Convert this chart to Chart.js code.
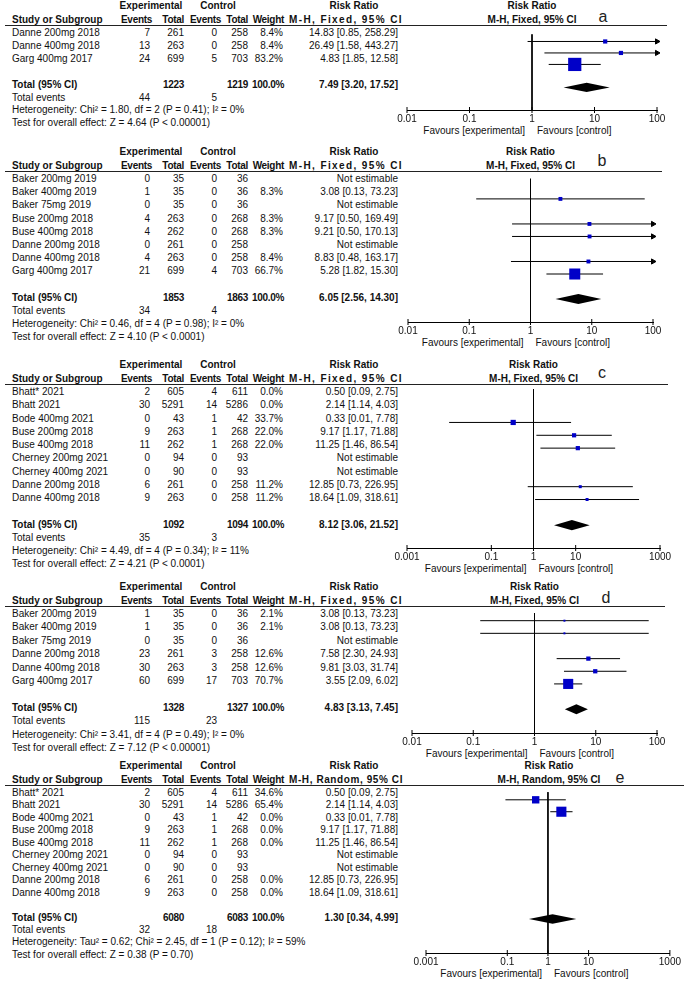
<!DOCTYPE html>
<html>
<head>
<meta charset="utf-8">
<title>Forest plots a-e</title>
<script src="https://cdn.jsdelivr.net/npm/chart.js@4.4.0/dist/chart.umd.min.js"></script>
<style>
  html, body { margin: 0; padding: 0; background: #fff; }
  #page { position: relative; width: 684px; height: 982px; overflow: hidden;
          font-family: "Liberation Sans", Arial, sans-serif; font-size: 10px; color: #111; }
  .t { position: absolute; white-space: nowrap; line-height: 12px; }
  .b { font-weight: bold; }
  .n { letter-spacing: -0.3px; }
  .rule { position: absolute; height: 1px; background: #222; }
  .tag { position: absolute; font-size: 16px; line-height: 18px; color: #222; transform: translate(-50%, -50%); }
  canvas { position: absolute; }
</style>
</head>
<body>
<div id="page"></div>
<script>
// ---- panel a
const studiesA = ['Danne 200mg 2018', 'Danne 400mg 2018', 'Garg 400mg 2017'];
const expEventsA = [7, 13, 24];
const expTotalA = [261, 263, 699];
const ctrlEventsA = [0, 0, 5];
const ctrlTotalA = [258, 258, 703];
const weightA = [8.4, 8.4, 83.2];
const rrA = [14.83, 26.49, 4.83];
const lowerA = [0.85, 1.58, 1.85];
const upperA = [258.29, 443.27, 12.58];
const totalNA = [1223, 1219];
const totalRRA = [7.49, 3.20, 17.52];
const totalEventsA = [44, 5];
const hetA = 'Heterogeneity: Chi² = 1.80, df = 2 (P = 0.41); I² = 0%';
const testA = 'Test for overall effect: Z = 4.64 (P < 0.00001)';
const ticksA = [0.01, 0.1, 1, 10, 100];

// ---- panel b
const studiesB = ['Baker 200mg 2019', 'Baker 400mg 2019', 'Baker 75mg 2019', 'Buse 200mg 2018',
                  'Buse 400mg 2018', 'Danne 200mg 2018', 'Danne 400mg 2018', 'Garg 400mg 2017'];
const expEventsB = [0, 1, 0, 4, 4, 0, 4, 21];
const expTotalB = [35, 35, 35, 263, 262, 261, 263, 699];
const ctrlEventsB = [0, 0, 0, 0, 0, 0, 0, 4];
const ctrlTotalB = [36, 36, 36, 268, 268, 258, 258, 703];
const weightB = [null, 8.3, null, 8.3, 8.3, null, 8.4, 66.7];
const rrB = [null, 3.08, null, 9.17, 9.21, null, 8.83, 5.28];
const lowerB = [null, 0.13, null, 0.50, 0.50, null, 0.48, 1.82];
const upperB = [null, 73.23, null, 169.49, 170.13, null, 163.17, 15.30];
const totalNB = [1853, 1863];
const totalRRB = [6.05, 2.56, 14.30];
const totalEventsB = [34, 4];
const hetB = 'Heterogeneity: Chi² = 0.46, df = 4 (P = 0.98); I² = 0%';
const testB = 'Test for overall effect: Z = 4.10 (P < 0.0001)';
const ticksB = [0.01, 0.1, 1, 10, 100];

// ---- panel c
const studiesC = ['Bhatt* 2021', 'Bhatt 2021', 'Bode 400mg 2021', 'Buse 200mg 2018', 'Buse 400mg 2018',
                  'Cherney 200mg 2021', 'Cherney 400mg 2021', 'Danne 200mg 2018', 'Danne 400mg 2018'];
const expEventsC = [2, 30, 0, 9, 11, 0, 0, 6, 9];
const expTotalC = [605, 5291, 43, 263, 262, 94, 90, 261, 263];
const ctrlEventsC = [4, 14, 1, 1, 1, 0, 0, 0, 0];
const ctrlTotalC = [611, 5286, 42, 268, 268, 93, 93, 258, 258];
const weightC = [0.0, 0.0, 33.7, 22.0, 22.0, null, null, 11.2, 11.2];
const rrC = [0.50, 2.14, 0.33, 9.17, 11.25, null, null, 12.85, 18.64];
const lowerC = [0.09, 1.14, 0.01, 1.17, 1.46, null, null, 0.73, 1.09];
const upperC = [2.75, 4.03, 7.78, 71.88, 86.54, null, null, 226.95, 318.61];
const totalNC = [1092, 1094];
const totalRRC = [8.12, 3.06, 21.52];
const totalEventsC = [35, 3];
const hetC = 'Heterogeneity: Chi² = 4.49, df = 4 (P = 0.34); I² = 11%';
const testC = 'Test for overall effect: Z = 4.21 (P < 0.0001)';
const ticksC = [0.001, 0.1, 1, 10, 1000];

// ---- panel d
const studiesD = ['Baker 200mg 2019', 'Baker 400mg 2019', 'Baker 75mg 2019',
                  'Danne 200mg 2018', 'Danne 400mg 2018', 'Garg 400mg 2017'];
const expEventsD = [1, 1, 0, 23, 30, 60];
const expTotalD = [35, 35, 35, 261, 263, 699];
const ctrlEventsD = [0, 0, 0, 3, 3, 17];
const ctrlTotalD = [36, 36, 36, 258, 258, 703];
const weightD = [2.1, 2.1, null, 12.6, 12.6, 70.7];
const rrD = [3.08, 3.08, null, 7.58, 9.81, 3.55];
const lowerD = [0.13, 0.13, null, 2.30, 3.03, 2.09];
const upperD = [73.23, 73.23, null, 24.93, 31.74, 6.02];
const totalND = [1328, 1327];
const totalRRD = [4.83, 3.13, 7.45];
const totalEventsD = [115, 23];
const hetD = 'Heterogeneity: Chi² = 3.41, df = 4 (P = 0.49); I² = 0%';
const testD = 'Test for overall effect: Z = 7.12 (P < 0.00001)';
const ticksD = [0.01, 0.1, 1, 10, 100];

// ---- panel e (same studies as c, random effects)
const studiesE = studiesC;
const expEventsE = [2, 30, 0, 9, 11, 0, 0, 6, 9];
const expTotalE = [605, 5291, 43, 263, 262, 94, 90, 261, 263];
const ctrlEventsE = [4, 14, 1, 1, 1, 0, 0, 0, 0];
const ctrlTotalE = [611, 5286, 42, 268, 268, 93, 93, 258, 258];
const weightE = [34.6, 65.4, 0.0, 0.0, 0.0, null, null, 0.0, 0.0];
const rrE = [0.50, 2.14, 0.33, 9.17, 11.25, null, null, 12.85, 18.64];
const lowerE = [0.09, 1.14, 0.01, 1.17, 1.46, null, null, 0.73, 1.09];
const upperE = [2.75, 4.03, 7.78, 71.88, 86.54, null, null, 226.95, 318.61];
const totalNE = [6080, 6083];
const totalRRE = [1.30, 0.34, 4.99];
const totalEventsE = [32, 18];
const hetE = 'Heterogeneity: Tau² = 0.62; Chi² = 2.45, df = 1 (P = 0.12); I² = 59%';
const testE = 'Test for overall effect: Z = 0.38 (P = 0.70)';
const ticksE = [0.001, 0.1, 1, 10, 1000];

const BLUE = '#0000c8';
const FONT = '"Liberation Sans", Arial, sans-serif';
const AXIS_H = 18;   // tick label height 12 + padding 3*2
const PLOT_LEFT = 380;
const PLOT_W = 304;

// right edges of the table columns
const COL = { name: 12, expEv: 150, expN: 184, ctrlEv: 217, ctrlN: 248, weight: 284, rr: 398 };

const panels = [
  { tag: 'a', model: 'Fixed', studies: studiesA, expEv: expEventsA, expN: expTotalA, ctrlEv: ctrlEventsA, ctrlN: ctrlTotalA,
    weight: weightA, rr: rrA, lo: lowerA, hi: upperA, totalN: totalNA, totalRR: totalRRA, events: totalEventsA,
    het: hetA, test: testA, ticks: ticksA,
    firstRow: 33, rowStep: 12.9, axisY: 110, axisLeft: 407, axisRight: 657, ruleRight: 667, tagX: 603, tagY: 17, boxScale: 1.45 },
  { tag: 'b', model: 'Fixed', studies: studiesB, expEv: expEventsB, expN: expTotalB, ctrlEv: ctrlEventsB, ctrlN: ctrlTotalB,
    weight: weightB, rr: rrB, lo: lowerB, hi: upperB, totalN: totalNB, totalRR: totalRRB, events: totalEventsB,
    het: hetB, test: testB, ticks: ticksB,
    firstRow: 179, rowStep: 13.2, axisY: 322, axisLeft: 408, axisRight: 653, ruleRight: 662, tagX: 602, tagY: 161, boxScale: 1.35 },
  { tag: 'c', model: 'Fixed', studies: studiesC, expEv: expEventsC, expN: expTotalC, ctrlEv: ctrlEventsC, ctrlN: ctrlTotalC,
    weight: weightC, rr: rrC, lo: lowerC, hi: upperC, totalN: totalNC, totalRR: totalRRC, events: totalEventsC,
    het: hetC, test: testC, ticks: ticksC,
    firstRow: 392, rowStep: 13.25, axisY: 548, axisLeft: 407, axisRight: 660, ruleRight: 668, tagX: 602, tagY: 373, boxScale: 0.9 },
  { tag: 'd', model: 'Fixed', studies: studiesD, expEv: expEventsD, expN: expTotalD, ctrlEv: ctrlEventsD, ctrlN: ctrlTotalD,
    weight: weightD, rr: rrD, lo: lowerD, hi: upperD, totalN: totalND, totalRR: totalRRD, events: totalEventsD,
    het: hetD, test: testD, ticks: ticksD,
    firstRow: 614, rowStep: 13.4, axisY: 733, axisLeft: 412, axisRight: 657, ruleRight: 665, tagX: 606, tagY: 598, boxScale: 1.2 },
  { tag: 'e', model: 'Random', studies: studiesE, expEv: expEventsE, expN: expTotalE, ctrlEv: ctrlEventsE, ctrlN: ctrlTotalE,
    weight: weightE, rr: rrE, lo: lowerE, hi: upperE, totalN: totalNE, totalRR: totalRRE, events: totalEventsE,
    het: hetE, test: testE, ticks: ticksE,
    firstRow: 793, rowStep: 12.45, axisY: 953, axisLeft: 426, axisRight: 672, ruleRight: 684, tagX: 620, tagY: 778, boxScale: 1.25 }
];

const page = document.getElementById('page');

function put(text, x, y, align, cls) {
  const d = document.createElement('div');
  d.className = 't' + (cls ? ' ' + cls : '');
  d.textContent = text;
  d.style.left = x + 'px';
  d.style.top = (y - 6) + 'px';
  if (align === 'right') d.style.transform = 'translateX(-100%)';
  if (align === 'center') d.style.transform = 'translateX(-50%)';
  page.appendChild(d);
  return d;
}

function ci(rr, lo, hi) {
  return rr.toFixed(2) + ' [' + lo.toFixed(2) + ', ' + hi.toFixed(2) + ']';
}

// fills the total diamond from the points the scales placed
const diamondPlugin = {
  id: 'diamond',
  afterDatasetsDraw(chart) {
    const ctx = chart.ctx;
    chart.data.datasets.forEach((ds, i) => {
      if (!ds.diamond) return;
      const pts = chart.getDatasetMeta(i).data;
      ctx.save();
      ctx.beginPath();
      pts.forEach((p, k) => k ? ctx.lineTo(p.x, p.y) : ctx.moveTo(p.x, p.y));
      ctx.closePath();
      ctx.fillStyle = '#000';
      ctx.fill();
      ctx.restore();
    });
  }
};

function drawTable(p) {
  const rowY = i => p.firstRow + i * p.rowStep;
  const n = p.studies.length;
  const min = p.ticks[0], max = p.ticks[p.ticks.length - 1];
  const nullX = p.axisLeft + (p.axisRight - p.axisLeft) * (0 - Math.log10(min)) / (Math.log10(max) - Math.log10(min));
  const head1 = p.firstRow - 27, head2 = p.firstRow - 13.5;

  put('Experimental', 151, head1, 'center', 'b');
  put('Control', 218, head1, 'center', 'b');
  put('Risk Ratio', 354, head1, 'center', 'b');
  put('Risk Ratio', nullX, head1, 'center', 'b');

  put('Study or Subgroup', COL.name, head2, 'left', 'b');
  put('Events', 152, head2, 'right', 'b n');
  put('Total', COL.expN, head2, 'right', 'b n');
  put('Events', 221, head2, 'right', 'b n');
  put('Total', COL.ctrlN, head2, 'right', 'b n');
  put('Weight', COL.weight, head2, 'right', 'b n');
  // the table copy of the method header is spread over the column width (about 288..403)
  const mh = put('M-H, ' + p.model + ', 95% CI', 403, head2, 'right', 'b');
  const spare = 114 - mh.getBoundingClientRect().width;
  mh.style.letterSpacing = Math.max(0, spare / mh.textContent.length).toFixed(2) + 'px';
  put('M-H, ' + p.model + ', 95% CI', nullX, head2, 'center', 'b');

  const rule = document.createElement('div');
  rule.className = 'rule';
  rule.style.left = '5px';
  rule.style.top = (p.firstRow - 8) + 'px';
  rule.style.width = (p.ruleRight - 5) + 'px';
  page.appendChild(rule);

  p.studies.forEach((s, i) => {
    const y = rowY(i);
    put(s, COL.name, y, 'left');
    put(String(p.expEv[i]), COL.expEv, y, 'right');
    put(String(p.expN[i]), COL.expN, y, 'right');
    put(String(p.ctrlEv[i]), COL.ctrlEv, y, 'right');
    put(String(p.ctrlN[i]), COL.ctrlN, y, 'right');
    if (p.weight[i] !== null) put(p.weight[i].toFixed(1) + '%', COL.weight - 1, y, 'right');
    put(p.rr[i] === null ? 'Not estimable' : ci(p.rr[i], p.lo[i], p.hi[i]), COL.rr, y, 'right');
  });

  const yt = rowY(n + 1);
  put('Total (95% CI)', COL.name, yt, 'left', 'b');
  put(String(p.totalN[0]), COL.expN, yt, 'right', 'b n');
  put(String(p.totalN[1]), COL.ctrlN, yt, 'right', 'b n');
  put('100.0%', COL.weight, yt, 'right', 'b n');
  put(ci(p.totalRR[0], p.totalRR[1], p.totalRR[2]), COL.rr, yt, 'right', 'b');

  put('Total events', COL.name, rowY(n + 2), 'left');
  put(String(p.events[0]), COL.expEv, rowY(n + 2), 'right');
  put(String(p.events[1]), COL.ctrlEv, rowY(n + 2), 'right');
  put(p.het, COL.name, rowY(n + 3), 'left');
  put(p.test, COL.name, rowY(n + 4), 'left');

  put('Favours [experimental]', nullX - 7, p.axisY + 21, 'right');
  put('Favours [control]', nullX + 5, p.axisY + 21, 'left');

  const tag = document.createElement('div');
  tag.className = 'tag';
  tag.textContent = p.tag;
  tag.style.left = p.tagX + 'px';
  tag.style.top = p.tagY + 'px';
  page.appendChild(tag);
}

function drawPlot(p) {
  const n = p.studies.length;
  const min = p.ticks[0], max = p.ticks[p.ticks.length - 1];
  const top = p.firstRow - 8;
  const yMin = (top - p.firstRow) / p.rowStep;
  const yMax = (p.axisY - p.firstRow) / p.rowStep;

  const canvas = document.createElement('canvas');
  canvas.width = PLOT_W;
  canvas.height = p.axisY - top + AXIS_H;
  canvas.style.left = PLOT_LEFT + 'px';
  canvas.style.top = top + 'px';
  page.appendChild(canvas);

  const datasets = [];
  // line of no effect
  datasets.push({ data: [{ x: 1, y: yMin }, { x: 1, y: yMax }], showLine: true, pointRadius: 0,
                  borderColor: '#000', borderWidth: 1, order: 5, clip: false });

  const boxes = [], boxRadius = [], arrows = [];
  p.studies.forEach((s, i) => {
    if (p.rr[i] === null || !(p.weight[i] > 0)) return;
    datasets.push({ data: [{ x: Math.max(p.lo[i], min), y: i }, { x: Math.min(p.hi[i], max), y: i }],
                    showLine: true, pointRadius: 0, borderColor: '#000', borderWidth: 1, order: 4, clip: false });
    boxes.push({ x: p.rr[i], y: i });
    const side = Math.max(2, p.boxScale * Math.sqrt(p.weight[i]));
    boxRadius.push(side / Math.SQRT2);
    if (p.hi[i] > max) arrows.push({ x: max, y: i });
  });

  datasets.push({ data: boxes, pointStyle: 'rect', pointRadius: boxRadius, backgroundColor: BLUE,
                  borderColor: BLUE, borderWidth: 0, order: 1, clip: false });
  datasets.push({ data: arrows, pointStyle: 'triangle', rotation: 90, pointRadius: 3, backgroundColor: '#000',
                  borderColor: '#000', borderWidth: 1, order: 3, clip: false });

  const yt = n + 1, h = 0.4;
  datasets.push({ diamond: true, data: [{ x: p.totalRR[1], y: yt }, { x: p.totalRR[0], y: yt - h },
                                         { x: p.totalRR[2], y: yt }, { x: p.totalRR[0], y: yt + h }],
                  pointRadius: 0, showLine: false, order: 2, clip: false });

  // tick marks crossing the axis
  datasets.push({ data: p.ticks.map(v => ({ x: v, y: yMax })), pointStyle: 'line', rotation: 90, pointRadius: 3,
                  borderColor: '#000', pointBorderWidth: 1, order: 4, clip: false });

  new Chart(canvas, {
    type: 'scatter',
    data: { datasets: datasets },
    options: {
      responsive: false,
      animation: false,
      devicePixelRatio: 1,
      events: [],
      layout: { padding: { left: p.axisLeft - PLOT_LEFT, right: PLOT_LEFT + PLOT_W - p.axisRight, top: 0, bottom: 0 } },
      plugins: { legend: { display: false }, tooltip: { enabled: false } },
      scales: {
        x: {
          type: 'logarithmic', min: min, max: max, position: 'bottom',
          grid: { display: true, drawOnChartArea: false, drawTicks: false },
          border: { display: true, color: '#000', width: 1 },
          afterBuildTicks: scale => { scale.ticks = p.ticks.map(v => ({ value: v })); },
          ticks: { autoSkip: false, maxRotation: 0, padding: 3, color: '#111',
                   font: { family: FONT, size: 10 },
                   callback: (v, idx) => String(p.ticks[idx]) }
        },
        y: { type: 'linear', display: false, reverse: true, min: yMin, max: yMax }
      }
    },
    plugins: [diamondPlugin]
  });
}

panels.forEach(p => { drawTable(p); drawPlot(p); });
</script>
</body>
</html>
